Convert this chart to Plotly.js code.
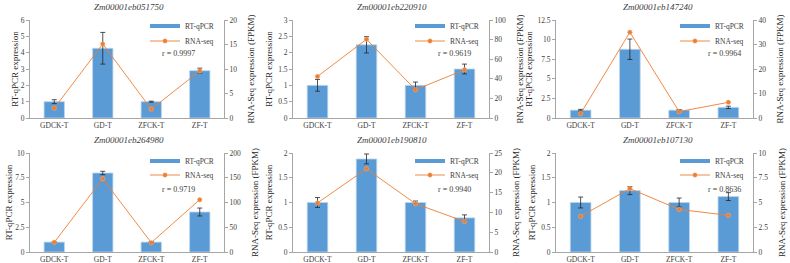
<!DOCTYPE html>
<html>
<head>
<meta charset="utf-8">
<script src="https://cdn.plot.ly/plotly-3.0.1.min.js"></script>
<style>html,body{margin:0;padding:0;background:#fff;}#chart{width:790px;height:263px;}</style>
</head>
<body>
<div id="chart"></div>
<script>
// ---- data ----
const categories = ['GDCK-T', 'GD-T', 'ZFCK-T', 'ZF-T'];
const geneNames = ['Zm00001eb051750', 'Zm00001eb220910', 'Zm00001eb147240',
                   'Zm00001eb264980', 'Zm00001eb190810', 'Zm00001eb107130'];
const rValues = ['0.9997', '0.9619', '0.9964', '0.9719', '0.9940', '0.8636'];

const qpcr1 = [1.0, 4.27, 1.0, 2.9];
const qpcrErr1 = [0.12, 0.97, 0.03, 0.15];
const rnaseq1 = [2.0, 15.1, 1.8, 9.6];

const qpcr2 = [1.0, 2.24, 1.0, 1.5];
const qpcrErr2 = [0.18, 0.25, 0.1, 0.15];
const rnaseq2 = [42.4, 80.3, 28.8, 49.2];

const qpcr3 = [1.0, 8.77, 1.0, 1.36];
const qpcrErr3 = [0.1, 1.3, 0.08, 0.15];
const rnaseq3 = [1.8, 35.0, 2.6, 6.4];

const qpcr4 = [1.0, 7.98, 1.0, 4.04];
const qpcrErr4 = [0.03, 0.17, 0.03, 0.4];
const rnaseq4 = [19.5, 148, 18.9, 105.7];

const qpcr5 = [1.0, 1.88, 1.0, 0.69];
const qpcrErr5 = [0.1, 0.1, 0.03, 0.06];
const rnaseq5 = [12.4, 21.0, 12.2, 7.7];

const qpcr6 = [1.0, 1.24, 1.0, 1.12];
const qpcrErr6 = [0.11, 0.08, 0.09, 0.08];
const rnaseq6 = [3.6, 6.4, 4.3, 3.7];

const qpcrSeries = [qpcr1, qpcr2, qpcr3, qpcr4, qpcr5, qpcr6];
const qpcrErrSeries = [qpcrErr1, qpcrErr2, qpcrErr3, qpcrErr4, qpcrErr5, qpcrErr6];
const rnaseqSeries = [rnaseq1, rnaseq2, rnaseq3, rnaseq4, rnaseq5, rnaseq6];

// ---- axis settings ----
const leftRanges = [[0, 6], [0, 3], [0, 12.5], [0, 10], [0, 2], [0, 2]];
const leftDticks = [1, 0.5, 2.5, 2.5, 0.5, 0.5];
const rightRanges = [[0, 20], [0, 100], [0, 40], [0, 200], [0, 25], [0, 10]];
const rightDticks = [5, 20, 10, 50, 5, 2.5];

// ---- layout geometry (pixels) ----
const W = 790, H = 263;
const colPx = [[30, 224], [293, 489], [556, 753]];
const rowPx = [[20, 118], [153, 252]];
const titleX = [129, 392, 658];
const titleY = [7, 140];
const rX = [160, 436, 706];
const rY = [53, 189];
const legendTextX = [185, 450, 715];
const legendTop1 = [11.5, 146.5];
const legendTop2 = [26.5, 160.5];
const leftStandoff = [0, 3, 3];
const rightStandoff = 11;

const FONT = 'Liberation Serif';
const BLUE = '#5B9BD5';
const ORANGE = '#ED7D31';
const AXIS = '#A6A6A6';
const TXT = '#404040';

const traces = [];
const layout = {
  width: W, height: H,
  margin: {l: 0, r: 0, t: 0, b: 0},
  paper_bgcolor: '#fff', plot_bgcolor: 'rgba(0,0,0,0)',
  showlegend: true,
  font: {family: FONT, size: 7.5, color: TXT},
  annotations: []
};

function legendKey(k) { return k === 1 ? 'legend' : 'legend' + k; }

for (let i = 0; i < 6; i++) {
  const c = i % 3, r = Math.floor(i / 3);
  const xk = i === 0 ? 'x' : 'x' + (i + 1);
  const yl = 'y' + (2 * i + 1 === 1 ? '' : 2 * i + 1);
  const yr = 'y' + (2 * i + 2);
  const legA = legendKey(2 * i + 1);
  const legB = legendKey(2 * i + 2);

  traces.push({
    type: 'bar', x: categories, y: qpcrSeries[i], xaxis: xk, yaxis: yl,
    width: 0.42,
    marker: {color: BLUE, line: {color: '#BDD7EE', width: 0.8}},
    error_y: {type: 'data', array: qpcrErrSeries[i], visible: true, color: '#262626', thickness: 0.8, width: 2.5},
    showlegend: false, hoverinfo: 'skip'
  });
  // legend-only entry showing the flat bar symbol
  traces.push({
    type: 'scatter', mode: 'lines', x: [null], y: [null], xaxis: xk, yaxis: yl,
    line: {color: BLUE, width: 4}, name: 'RT-qPCR', legend: legA, showlegend: true
  });
  traces.push({
    type: 'scatter', mode: 'lines+markers', x: categories, y: rnaseqSeries[i], xaxis: xk, yaxis: yr,
    line: {color: ORANGE, width: 0.9},
    marker: {color: ORANGE, size: 4.5, symbol: 'circle', line: {color: '#F4B183', width: 0.5}},
    name: 'RNA-seq', legend: legB, showlegend: true, hoverinfo: 'skip'
  });

  const xd = [colPx[c][0] / W, colPx[c][1] / W];
  const yd = [1 - rowPx[r][1] / H, 1 - rowPx[r][0] / H];
  const xName = i === 0 ? 'xaxis' : 'xaxis' + (i + 1);
  const ylName = 'yaxis' + (2 * i + 1 === 1 ? '' : 2 * i + 1);
  const yrName = 'yaxis' + (2 * i + 2);

  layout[xName] = {
    domain: xd, anchor: yl, type: 'category', range: [-0.5, 3.5],
    showline: true, linecolor: AXIS, linewidth: 1, ticks: '', showgrid: false, zeroline: false,
    tickfont: {family: FONT, size: 7.5, color: TXT}, fixedrange: true
  };
  layout[ylName] = {
    domain: yd, anchor: xk, range: leftRanges[i], dtick: leftDticks[i], tick0: 0,
    showline: true, linecolor: AXIS, linewidth: 1, ticks: 'outside', ticklen: 3, tickcolor: AXIS,
    showgrid: false, zeroline: false,
    tickfont: {family: FONT, size: 7.5, color: TXT},
    title: {text: 'RT-qPCR expression', font: {family: FONT, size: 9, color: '#262626'}, standoff: leftStandoff[c]}
  };
  layout[yrName] = {
    domain: yd, anchor: xk, overlaying: yl, side: 'right', range: rightRanges[i], dtick: rightDticks[i], tick0: 0,
    showline: true, linecolor: AXIS, linewidth: 1, ticks: 'outside', ticklen: 3, tickcolor: AXIS,
    showgrid: false, zeroline: false,
    tickfont: {family: FONT, size: 7.5, color: TXT},
    title: {text: 'RNA-Seq expression (FPKM)', font: {family: FONT, size: 9, color: '#262626'}, standoff: rightStandoff}
  };

  const legCommon = {
    x: (legendTextX[c] - 40) / W, xanchor: 'left', yanchor: 'top',
    bgcolor: 'rgba(0,0,0,0)', borderwidth: 0, itemwidth: 30,
    font: {family: FONT, size: 7.5, color: TXT}
  };
  layout[legA] = Object.assign({}, legCommon, {y: 1 - legendTop1[r] / H});
  layout[legB] = Object.assign({}, legCommon, {y: 1 - legendTop2[r] / H});

  layout.annotations.push({
    xref: 'paper', yref: 'paper', x: titleX[c] / W, y: 1 - titleY[r] / H,
    xanchor: 'center', yanchor: 'middle', showarrow: false,
    text: '<i>' + geneNames[i] + '</i>', font: {family: FONT, size: 9, color: '#404040'}
  });
  layout.annotations.push({
    xref: 'paper', yref: 'paper', x: rX[c] / W, y: 1 - rY[r] / H,
    xanchor: 'left', yanchor: 'middle', showarrow: false,
    text: 'r = ' + rValues[i], font: {family: FONT, size: 8, color: TXT}
  });
}

Plotly.newPlot('chart', traces, layout, {staticPlot: true, displayModeBar: false});
</script>
</body>
</html>
